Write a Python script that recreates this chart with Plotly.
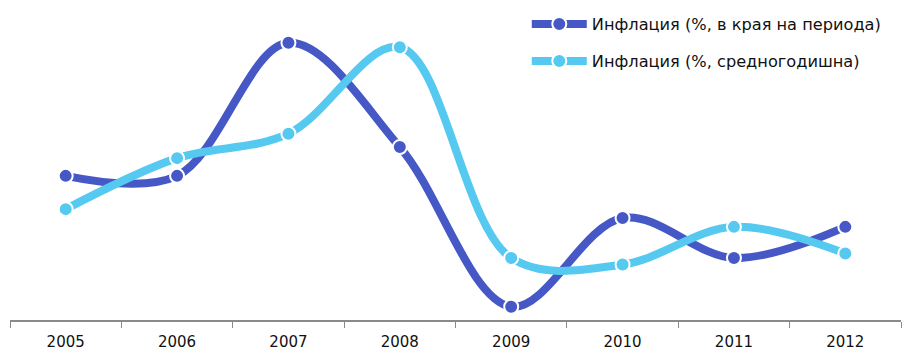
import plotly.graph_objects as go

years = ["2005", "2006", "2007", "2008", "2009", "2010", "2011", "2012"]
end_of_period = [6.5, 6.5, 12.5, 7.8, 0.6, 4.6, 2.8, 4.2]
annual_avg = [5.0, 7.3, 8.4, 12.3, 2.8, 2.5, 4.2, 3.0]

names = ["Инфлация (%, в края на периода)", "Инфлация (%, средногодишна)"]
colors = ["#4658C6", "#55C9F0"]

fig = go.Figure()
for i, (vals, name, col) in enumerate(zip([end_of_period, annual_avg], names, colors)):
    fig.add_trace(go.Scatter(
        x=years, y=vals, name=name, mode="lines+markers",
        line=dict(color=col, width=8, shape="spline", smoothing=1.0),
        marker=dict(size=14, color=col, line=dict(color="white", width=2)),
        legendgroup=f"g{i}",
    ))

fig.update_layout(
    width=902, height=351,
    margin=dict(l=10, r=1, t=10, b=31),
    paper_bgcolor="white", plot_bgcolor="white",
    font=dict(family="DejaVu Sans", color="#111"),
    showlegend=True,
    legend=dict(
        x=0.58, y=1.01, xanchor="left", yanchor="top",
        font=dict(size=16.2, family="DejaVu Sans", color="#111"),
        itemwidth=55, tracegroupgap=13, bgcolor="rgba(0,0,0,0)",
    ),
    xaxis=dict(
        type="category", range=[-0.5, 7.5], showgrid=False,
        showline=True, linecolor="#8a8a8a", linewidth=1.5,
        ticks="outside", ticklen=6, tickcolor="#8a8a8a", tickson="boundaries",
        ticklabelstandoff=7,
        tickfont=dict(size=15, family="DejaVu Sans", color="#111"),
    ),
    yaxis=dict(range=[0, 13.98], visible=False, showgrid=False, zeroline=False),
)

fig.write_html("out.html")
